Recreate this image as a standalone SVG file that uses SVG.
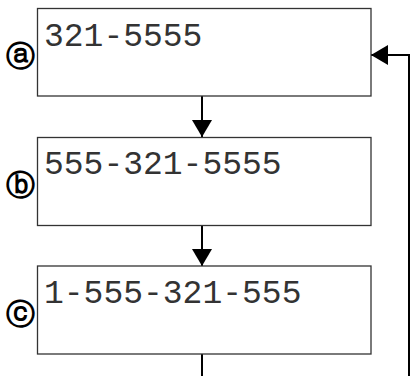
<svg xmlns="http://www.w3.org/2000/svg" width="411" height="376" viewBox="0 0 411 376">
<style>
.box{fill:#fff;stroke:#333;stroke-width:1.3}
.txt{font-family:"Liberation Mono",monospace;font-size:33px;fill:#333}
.lbl{font-family:"DejaVu Sans",sans-serif;font-size:29px;font-weight:bold;fill:#000;text-anchor:middle}
.ln{fill:none;stroke:#000;stroke-width:2}
</style>
<defs>
<marker id="ah" viewBox="0 0 17 20" refX="17" refY="10" markerWidth="17" markerHeight="20" markerUnits="userSpaceOnUse" orient="auto">
<path d="M0,0 L17,10 L0,20 Z" fill="#000"/>
</marker>
</defs>
<rect width="411" height="376" fill="#fff"/>
<g id="connectors">
<line class="ln" x1="202" y1="96" x2="202" y2="137" marker-end="url(#ah)"/>
<line class="ln" x1="202" y1="225" x2="202" y2="266" marker-end="url(#ah)"/>
<polyline class="ln" points="202,354 202,376"/>
<polyline class="ln" points="409,376 409,55 371,55" marker-end="url(#ah)"/>
</g>
<g id="node-a">
<rect class="box" x="37.5" y="8.5" width="333.5" height="87.5"/>
<text class="txt" x="44" y="46">321-5555</text>
<text class="lbl" x="20" y="66">ⓐ</text>
</g>
<g id="node-b">
<rect class="box" x="37.5" y="137.5" width="333.5" height="88"/>
<text class="txt" x="44" y="174">555-321-5555</text>
<text class="lbl" x="20" y="195">ⓑ</text>
</g>
<g id="node-c">
<rect class="box" x="37.5" y="266" width="333.5" height="88"/>
<text class="txt" x="44" y="303">1-555-321-555</text>
<text class="lbl" x="20" y="324">ⓒ</text>
</g>
</svg>
